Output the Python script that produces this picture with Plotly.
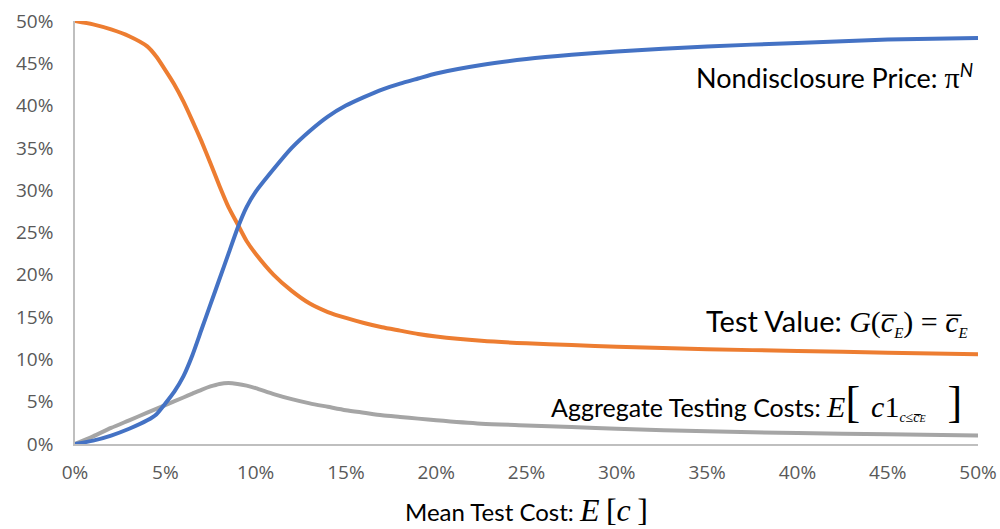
import plotly.graph_objects as go

# Mean test cost E[c] (%)
x_blue = [0, 1, 2, 3, 4, 4.5, 5, 5.5, 6, 6.5, 7, 7.5, 8, 8.5, 9, 9.5, 10, 11, 12, 13, 14, 15, 16, 17, 18, 19, 20, 22.5, 25, 27.5, 30, 35, 40, 45, 50]
nondisclosure_price = [0, 0.4, 1.0, 1.8, 2.8, 3.5, 4.8, 6.2, 8.0, 10.5, 13.5, 16.5, 19.5, 22.5, 25.5, 28, 29.8, 32.5, 35, 37, 38.7, 40, 41, 41.9, 42.6, 43.2, 43.8, 44.8, 45.5, 46, 46.4, 47, 47.4, 47.8, 48.0]

x_orange = [0, 1, 2, 3, 4, 4.5, 5, 5.5, 6, 6.5, 7, 7.5, 8, 8.5, 9, 9.5, 10, 11, 12, 13, 14, 15, 16, 17, 18, 19, 20, 22.5, 25, 27.5, 30, 35, 40, 45, 50]
test_value = [50, 49.6, 49.0, 48.2, 47.0, 45.8, 44.2, 42.5, 40.5, 38.2, 35.8, 33.2, 30.5, 28, 26, 24, 22.5, 20, 18.1, 16.6, 15.6, 14.9, 14.3, 13.8, 13.4, 13.0, 12.7, 12.2, 11.9, 11.7, 11.5, 11.2, 11.0, 10.8, 10.6]

x_gray = [0, 1, 2, 3, 4, 5, 6, 6.5, 7, 7.5, 8, 8.5, 9, 9.5, 10, 11, 12, 13, 14, 15, 16, 17, 18, 19, 20, 22.5, 25, 27.5, 30, 35, 40, 45, 50]
aggregate_costs = [0, 0.9, 1.9, 2.8, 3.7, 4.6, 5.5, 5.95, 6.4, 6.8, 7.1, 7.2, 7.1, 6.9, 6.6, 5.9, 5.3, 4.8, 4.4, 4.0, 3.7, 3.4, 3.2, 3.0, 2.8, 2.4, 2.2, 2.0, 1.8, 1.5, 1.3, 1.15, 1.0]

tick_vals = [0, 5, 10, 15, 20, 25, 30, 35, 40, 45, 50]
tick_text = [f"{v}%" for v in tick_vals]

def pct(lst):
    return [v / 100 for v in lst]

fig = go.Figure()
fig.add_trace(go.Scatter(x=pct(x_gray), y=pct(aggregate_costs), mode="lines",
                         line=dict(color="#A5A5A5", width=4, shape="spline", smoothing=0.7)))
fig.add_trace(go.Scatter(x=pct(x_orange), y=pct(test_value), mode="lines",
                         line=dict(color="#ED7D31", width=4, shape="spline", smoothing=0.6)))
fig.add_trace(go.Scatter(x=pct(x_blue), y=pct(nondisclosure_price), mode="lines",
                         line=dict(color="#4472C4", width=4, shape="spline", smoothing=0.6)))

axis_common = dict(
    tickvals=[v / 100 for v in tick_vals], ticktext=tick_text,
    showgrid=False, zeroline=False, showline=True, linecolor="#BFBFBF", linewidth=1.5,
    ticks="", tickfont=dict(family="Open Sans, Noto Sans, sans-serif", size=19, color="#595959"),
    fixedrange=True, automargin=False,
)
fig.update_xaxes(range=[0, 0.5], ticklabelstandoff=10, **axis_common)
fig.update_yaxes(range=[0, 0.5], ticklabelstandoff=16, **axis_common)

SERIF = "'Liberation Serif','DejaVu Serif',serif"
def it(s, size=30):
    return f"<span style=\"font-family:{SERIF};font-style:italic;font-size:{size}px\">{s}</span>"
def rm(s, size=30):
    return f"<span style=\"font-family:{SERIF};font-size:{size}px\">{s}</span>"

def font(size):
    return dict(family="Lato, Noto Sans, sans-serif", size=size, color="#000000")

fig.add_annotation(xref="paper", yref="paper", x=0.997, y=0.87, xanchor="right", yanchor="middle",
                   showarrow=False, font=font(27),
                   text="Nondisclosure Price: " + rm("π", 30) + "<sup><i>N</i></sup>")
fig.add_annotation(xref="paper", yref="paper", x=0.991, y=0.288, xanchor="right", yanchor="middle",
                   showarrow=False, font=font(29),
                   text="Test Value: " + it("G") + rm("(") + it("c\u0305") + "<sub>" + it("E", 15) + "</sub>"
                        + rm(") = ") + it("c\u0305") + "<sub>" + it("E", 15) + "</sub>")
fig.add_annotation(xref="paper", yref="paper", x=0.985, y=0.098, xanchor="right", yanchor="middle",
                   showarrow=False, font=font(25),
                   text="Aggregate Testing Costs: " + it("E") + rm("[ ", 44) + it("c") + rm("1")
                        + "<sub>" + it("c≤c\u0305", 14) + it("E", 10) + "</sub>" + rm("  ]", 44))
fig.add_annotation(xref="paper", yref="paper", x=0.5, y=-0.156, xanchor="center", yanchor="middle",
                   showarrow=False, font=font(24),
                   text="Mean Test Cost: " + it("E\u2009", 32) + rm("[", 32) + it("c\u2009", 32) + rm("]", 32))

fig.update_layout(
    width=1000, height=529,
    margin=dict(l=75, r=22, t=21, b=85),
    paper_bgcolor="white", plot_bgcolor="white",
    showlegend=False,
)
fig.write_html("out.html",
               config={"displayModeBar": False, "responsive": False},
               post_script="document.body.style.margin='0';document.body.style.overflow='hidden';")
